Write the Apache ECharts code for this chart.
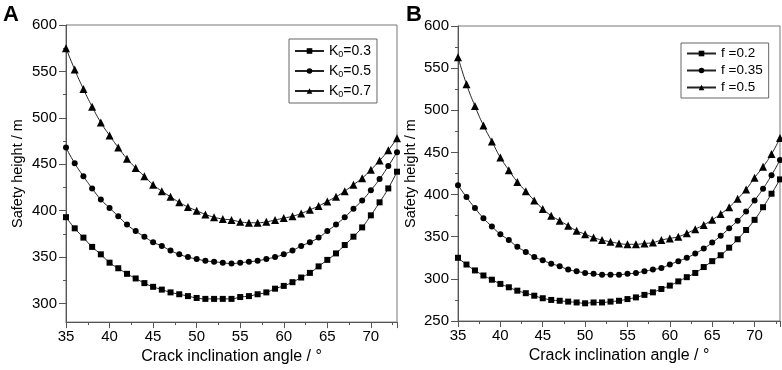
<!DOCTYPE html>
<html>
<head>
<meta charset="utf-8">
<script src="https://cdn.jsdelivr.net/npm/echarts@6/dist/echarts.min.js"></script>
<style>
  html, body { margin: 0; padding: 0; background: #fff; }
  #chart { width: 782px; height: 370px; }
</style>
</head>
<body>
<div id="chart"></div>
<script>
// crack inclination angle (deg), same for both panels
var angles = [35, 36, 37, 38, 39, 40, 41, 42, 43, 44, 45, 46, 47, 48, 49, 50, 51, 52, 53,
              54, 55, 56, 57, 58, 59, 60, 61, 62, 63, 64, 65, 66, 67, 68, 69, 70, 71, 72, 73];

// panel A : K0
var namesA = ['K0=0.3', 'K0=0.5', 'K0=0.7'];
var k03 = [393, 381, 371, 361, 353, 344, 338, 332, 327, 322, 318, 315, 312, 310, 308, 306, 305, 305, 305,
           305, 307, 308, 310, 312, 316, 319, 323, 328, 333, 340, 347, 354, 363, 372, 382, 395, 409, 424, 442];
var k05 = [468, 451, 437, 424, 412, 403, 394, 385, 378, 372, 366, 362, 357, 353, 350, 348, 346, 345, 344,
           343, 344, 345, 346, 348, 350, 353, 357, 362, 366, 371, 378, 385, 393, 402, 411, 422, 434, 448, 463];
var k07 = [575, 552, 531, 512, 495, 481, 468, 456, 446, 437, 428, 421, 415, 409, 404, 400, 396, 393, 391,
           390, 388, 387, 387, 388, 390, 392, 394, 397, 401, 405, 410, 415, 421, 428, 435, 444, 454, 465, 478];

// panel B : f
var namesB = ['f =0.2', 'f =0.35', 'f =0.5'];
var f02 = [325, 317, 310, 304, 299, 294, 290, 286, 283, 280, 277, 275, 274, 273, 272, 271, 272, 272, 273,
           274, 276, 278, 281, 284, 288, 292, 297, 302, 307, 314, 321, 328, 337, 347, 358, 370, 385, 401, 418];
var f035 = [411, 397, 384, 372, 362, 353, 346, 338, 332, 326, 322, 318, 315, 311, 309, 307, 306, 305, 305,
            305, 306, 307, 309, 311, 313, 317, 321, 325, 330, 336, 343, 351, 360, 369, 380, 393, 407, 423, 441];
var f05 = [563, 531, 505, 482, 463, 444, 429, 415, 404, 393, 383, 375, 369, 363, 357, 353, 349, 346, 344,
           342, 341, 341, 342, 343, 346, 348, 350, 354, 359, 364, 370, 377, 385, 395, 406, 420, 433, 448, 467];

var yLabelsA = [300, 350, 400, 450, 500, 550, 600];
var yMinorA = [325, 375, 425, 475, 525, 575];

var symbols = ['rect', 'circle', 'triangle'];
var symbolSizes = [6, 6, 8];
var font = 'Liberation Sans, Arial, sans-serif';

function pairs(vals) {
    return angles.map(function (a, i) { return [a, vals[i]]; });
}

function xAxisOpt(gridIndex, nameGap) {
    return {
        type: 'value', gridIndex: gridIndex, min: 35, max: 73, interval: 5,
        name: 'Crack inclination angle / °', nameLocation: 'middle', nameGap: nameGap,
        nameTextStyle: { fontFamily: font, fontSize: 16, color: '#000' },
        axisLine: { show: true, lineStyle: { color: '#555', width: 1 } },
        axisTick: { show: true, length: 6, lineStyle: { color: '#555' } },
        minorTick: { show: true, splitNumber: 2, length: 3, lineStyle: { color: '#555' } },
        axisLabel: { fontFamily: font, fontSize: 15, color: '#000', margin: 7, showMaxLabel: false },
        splitLine: { show: false }
    };
}

var yNameStyle = { fontFamily: font, fontSize: 14.5, color: '#000' };
var yLabelStyle = { fontFamily: font, fontSize: 15, color: '#000', margin: 9 };

var seriesList = [];
[k03, k05, k07].forEach(function (d, i) {
    seriesList.push({
        name: namesA[i], type: 'line', xAxisIndex: 0, yAxisIndex: 0, smooth: true,
        data: pairs(d), symbol: symbols[i], symbolSize: symbolSizes[i],
        lineStyle: { color: '#222', width: 1 }, itemStyle: { color: '#000' }
    });
});
[f02, f035, f05].forEach(function (d, i) {
    seriesList.push({
        name: namesB[i], type: 'line', xAxisIndex: 1, yAxisIndex: 2, smooth: true,
        data: pairs(d), symbol: symbols[i], symbolSize: symbolSizes[i],
        lineStyle: { color: '#222', width: 1 }, itemStyle: { color: '#000' }
    });
});

var chart = echarts.init(document.getElementById('chart'), null, { renderer: 'canvas' });
chart.setOption({
    animation: false,
    backgroundColor: '#fff',
    graphic: [
        { type: 'text', left: 3, top: 4, style: { text: 'A', font: 'bold 22px ' + font, fill: '#000' } },
        { type: 'text', left: 406, top: 4, style: { text: 'B', font: 'bold 22px ' + font, fill: '#000' } }
    ],
    grid: [
        { left: 66, top: 25, width: 331, height: 301, show: true, borderColor: '#777', borderWidth: 1 },
        { left: 458, top: 26, width: 322, height: 295, show: true, borderColor: '#777', borderWidth: 1 }
    ],
    legend: [
        {
            data: namesA, orient: 'vertical', left: 289, top: 39,
            padding: [4, 6, 4, 5], itemGap: 4, itemWidth: 29, itemHeight: 7,
            borderColor: '#666', borderWidth: 1,
            formatter: function (name) {
                return '{n|K}{s|0}{n|' + name.slice(2) + '}';
            },
            textStyle: {
                fontFamily: font, color: '#000',
                rich: {
                    n: { fontFamily: font, fontSize: 14, lineHeight: 16, color: '#000' },
                    s: { fontFamily: font, fontSize: 9, lineHeight: 16, color: '#000', padding: [7, 0, 0, 0] }
                }
            }
        },
        {
            data: namesB, orient: 'vertical', left: 681, top: 43,
            padding: [3, 6, 3, 5], itemGap: 2, itemWidth: 29, itemHeight: 7,
            borderColor: '#666', borderWidth: 1,
            textStyle: { fontFamily: font, fontSize: 13.5, lineHeight: 15, color: '#000' }
        }
    ],
    xAxis: [xAxisOpt(0, 25), xAxisOpt(1, 24)],
    yAxis: [
        {
            type: 'value', gridIndex: 0, min: 280, max: 600,
            name: 'Safety height / m', nameLocation: 'middle', nameGap: 41, nameTextStyle: yNameStyle,
            axisLine: { show: true, lineStyle: { color: '#555', width: 1 } },
            axisTick: { show: true, length: 7, customValues: yLabelsA, lineStyle: { color: '#555' } },
            axisLabel: Object.assign({ customValues: yLabelsA }, yLabelStyle),
            splitLine: { show: false }
        },
        {
            type: 'value', gridIndex: 0, min: 280, max: 600, position: 'left',
            axisLine: { show: false },
            axisTick: { show: true, length: 3, customValues: yMinorA, lineStyle: { color: '#555' } },
            axisLabel: { show: false },
            splitLine: { show: false }
        },
        {
            type: 'value', gridIndex: 1, min: 250, max: 600, interval: 50,
            name: 'Safety height / m', nameLocation: 'middle', nameGap: 40, nameTextStyle: yNameStyle,
            axisLine: { show: true, lineStyle: { color: '#555', width: 1 } },
            axisTick: { show: true, length: 7, lineStyle: { color: '#555' } },
            minorTick: { show: true, splitNumber: 2, length: 3, lineStyle: { color: '#555' } },
            axisLabel: yLabelStyle,
            splitLine: { show: false }
        }
    ],
    series: seriesList
});
</script>
</body>
</html>
